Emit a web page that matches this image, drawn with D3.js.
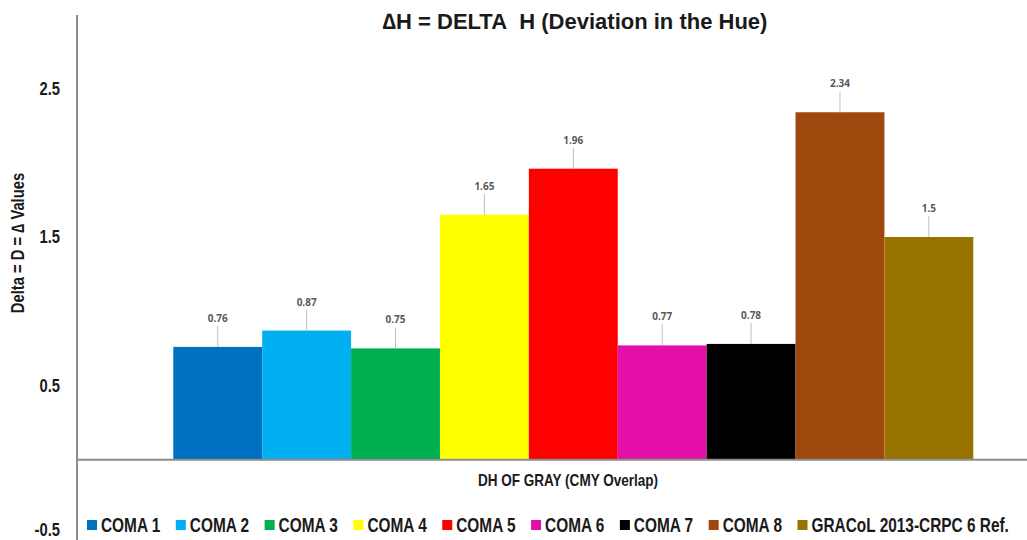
<!DOCTYPE html>
<html>
<head>
<meta charset="utf-8">
<script src="https://cdn.jsdelivr.net/npm/d3@7"></script>
<style>
  html, body { margin: 0; padding: 0; background: #fff; }
  svg { display: block; }
  .narrow { font-family: "Liberation Sans Narrow", "Arial Narrow", "Liberation Sans", Arial, sans-serif; font-weight: bold; }
</style>
</head>
<body>
<svg id="chart" width="1027" height="540"></svg>
<script>
// Series names, values and fill colours for the hue deviation chart
const seriesNames = ["COMA 1", "COMA 2", "COMA 3", "COMA 4", "COMA 5", "COMA 6", "COMA 7", "COMA 8", "GRACoL 2013-CRPC 6 Ref."];
const seriesValues = [0.76, 0.87, 0.75, 1.65, 1.96, 0.77, 0.78, 2.34, 1.5];
const seriesColors = ["#0070C0", "#00B0F0", "#00B050", "#FFFF00", "#FF0000", "#E30FA8", "#000000", "#9E480E", "#997300"];
const yTicks = [-0.5, 0.5, 1.5, 2.5];
const categoryLabel = "DH OF GRAY (CMY Overlap)";
const titleText = "\u2206H = DELTA\u00A0 H (Deviation in the Hue)";
const yAxisTitle = "Delta = D = \u2206 Values";

const svg = d3.select("#chart");
const W = 1027, H = 540;
const axisX = 77;
const NARROW = 0.82; // horizontal squeeze that imitates a condensed face

// squeeze a text element horizontally to a condensed width
function condense(sel, factor) {
  sel.each(function () {
    const len = this.getComputedTextLength();
    d3.select(this)
      .attr("textLength", len * factor)
      .attr("lengthAdjust", "spacingAndGlyphs");
  });
  return sel;
}

const y = d3.scaleLinear().domain([-0.5, 2.5]).range([534, 88.5]);
const x = d3.scaleBand().domain(seriesNames).range([173.3, 973.3]).padding(0);

// Title
svg.append("text")
  .attr("x", 575).attr("y", 29)
  .attr("text-anchor", "middle")
  .style("font-family", "'Liberation Sans', Arial, sans-serif")
  .style("font-weight", "bold")
  .style("font-size", "22px")
  .attr("fill", "#1a1a1a")
  .text(titleText);

// Bars
svg.append("g").selectAll("rect")
  .data(seriesValues)
  .join("rect")
  .attr("x", (d, i) => x(seriesNames[i]))
  .attr("width", x.bandwidth())
  .attr("y", d => y(d))
  .attr("height", d => y(0) - y(d))
  .attr("fill", (d, i) => seriesColors[i]);

// Value labels with leader lines
const lbl = svg.append("g");
seriesValues.forEach((v, i) => {
  const cx = x(seriesNames[i]) + x.bandwidth() / 2;
  lbl.append("line")
    .attr("x1", cx).attr("x2", cx)
    .attr("y1", y(v) - 21).attr("y2", y(v))
    .attr("stroke", "#bfbfbf").attr("stroke-width", 1);
  lbl.append("text")
    .attr("x", cx).attr("y", y(v) - 25)
    .attr("text-anchor", "middle")
    .style("font-family", "'Open Sans', 'Liberation Sans', Arial, sans-serif")
    .style("font-weight", "bold")
    .style("font-size", "10px")
    .attr("fill", "#595959")
    .text(String(v));
});

// Value axis (no tick marks, labels only)
const yAxis = d3.axisLeft(y).tickValues(yTicks).tickSize(0).tickPadding(17)
  .tickFormat(d => String(d));
const gy = svg.append("g").attr("transform", `translate(${axisX},0)`).call(yAxis);
gy.select(".domain").remove();
gy.selectAll("text")
  .attr("class", "narrow")
  .style("font-size", "18px")
  .attr("fill", "#1a1a1a")
  .attr("dy", d => d === -0.5 ? "0.08em" : "0.32em");
condense(gy.selectAll("text"), NARROW);

svg.append("line")
  .attr("x1", axisX).attr("x2", axisX)
  .attr("y1", 15).attr("y2", H)
  .attr("stroke", "#8c8c8c").attr("stroke-width", 2);

// Zero baseline
svg.append("line")
  .attr("x1", axisX).attr("x2", W)
  .attr("y1", y(0)).attr("y2", y(0))
  .attr("stroke", "#8c8c8c").attr("stroke-width", 2);

// Category label under the baseline
condense(svg.append("text")
  .attr("class", "narrow")
  .attr("x", 568).attr("y", 486)
  .attr("text-anchor", "middle")
  .style("font-size", "16.5px")
  .attr("fill", "#1a1a1a")
  .text(categoryLabel), NARROW);

// Y-axis title
condense(svg.append("text")
  .attr("class", "narrow")
  .attr("transform", "translate(24,243) rotate(-90)")
  .attr("text-anchor", "middle")
  .style("font-size", "18px")
  .attr("fill", "#1a1a1a")
  .text(yAxisTitle), NARROW);

// Legend along the bottom; each label is squeezed with a scale transform
const LEGEND_SQUEEZE = 0.79;
const legend = svg.append("g");
let lx = 87;
seriesNames.forEach((name, i) => {
  legend.append("rect")
    .attr("x", lx).attr("y", 520)
    .attr("width", 10).attr("height", 10)
    .attr("fill", seriesColors[i]);
  const t = legend.append("text")
    .attr("class", "narrow")
    .attr("x", 0).attr("y", 0)
    .attr("transform", `translate(${lx + 14},532) scale(${LEGEND_SQUEEZE},1)`)
    .style("font-size", "19.5px")
    .attr("fill", "#1a1a1a")
    .text(name);
  const squeezed = t.node().getComputedTextLength() * LEGEND_SQUEEZE;
  lx += 14 + squeezed + 15.5;
});
</script>
</body>
</html>
